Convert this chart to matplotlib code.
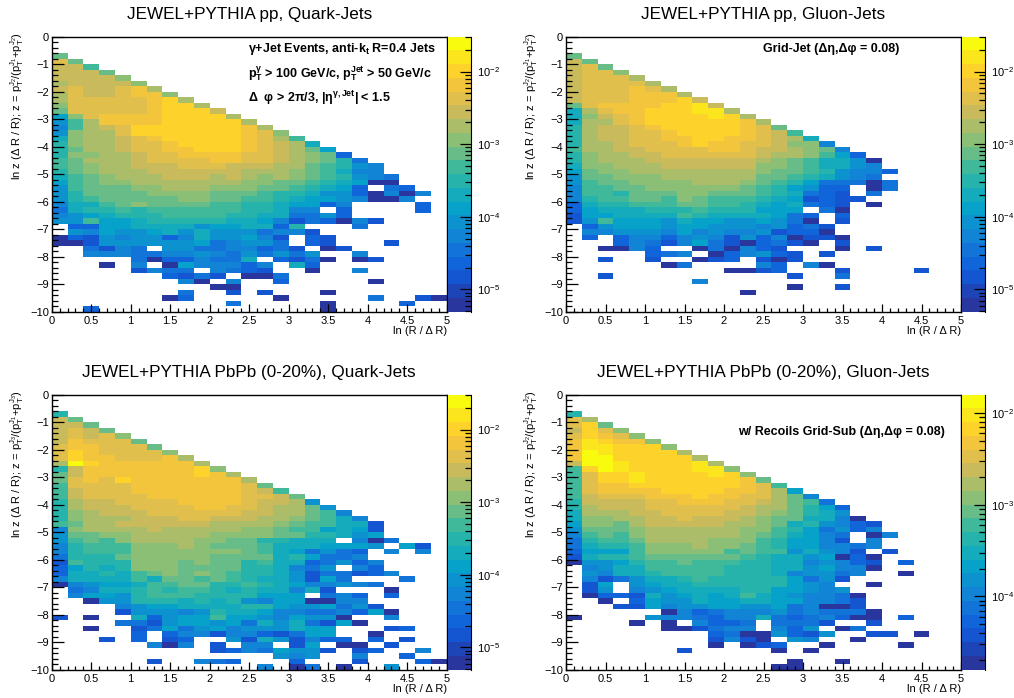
import numpy as np
import matplotlib
matplotlib.use('Agg')
import matplotlib.pyplot as plt
from matplotlib.colors import LinearSegmentedColormap, ListedColormap, BoundaryNorm
from matplotlib.ticker import LogLocator, MultipleLocator, NullFormatter, FuncFormatter

plt.rcParams['font.family'] = ['Liberation Sans', 'DejaVu Sans']
plt.rcParams['mathtext.fontset'] = 'custom'
plt.rcParams['mathtext.rm'] = 'Liberation Sans'
plt.rcParams['mathtext.it'] = 'Liberation Sans'
plt.rcParams['mathtext.bf'] = 'Liberation Sans:bold'
plt.rcParams['mathtext.default'] = 'regular'

# each row is one y bin from ln z = 0 downwards, each char one x bin (0.2 wide)
# 0-9,a-j is the colour, . is an empty bin
quark_pp = [
    "", "", "",
    "a",
    "ea",
    "dd9",
    "ddda",
    "ddddb",
    "cddddb",
    "deddefc",
    "ceddeffb",
    "ceeeeefgc",
    "beeeeefggc",
    "aeeeeefgggd",
    "6beffffggggc",
    "59cffffgggggc",
    "49cdegggggggfc",
    "5bccegggggggfeb",
    "7bccdefgggggfec9",
    "8bccdeefggggfedc7",
    "8accdeeffgggfedca6",
    "8bbccdeeffffeedcba2",
    "9acccdeeeeffeedcba83",
    "9abccdddeeedddcca9854",
    "8abcccddddddcccba9744",
    "79abcccdddcdcbcba98543",
    "69abbcccccccbbaa987600",
    "59aaabbcccbbbaa98762.32",
    "58aaaabbbbaaa98875520404",
    "589aaaaabbaa99876654004",
    "4779abaaaa998876624....2",
    "37889899999988744.2....2",
    "4567888999988773352",
    "559667888887764132041",
    ".226677775667728...3",
    ".5465567575553441",
    "021545524755641.21",
    "001555555634553.21...1",
    "..3143.553344231.01",
    "..444334454353535..4",
    ".....30224337.2130.01",
    "...0.4.0644424.72",
    ".....1433.4321..0..4",
    ".......2131.003",
    "........40.4..2.....0",
    "..........00",
    "........3..1.1...0",
    ".......02.....0.....3..10",
    "...........3.....0....2",
    "..2..............0",
]

gluon_pp = [
    "", "", "",
    "a",
    "da",
    "dea",
    "deeb",
    "deeec",
    "deeeec",
    "deeefec",
    "deeefffc",
    "deeefffgd",
    "aeffffgghd",
    "7ceffggghhc",
    "7bdefgggghgc",
    "7ccefggggggfc",
    "8cddefgggggfea",
    "8cddeefggggfed9",
    "8cddeeffggffedc7",
    "8ccdeeefgffeedbb4",
    "9ccddeeeeffeddcba4",
    "8bccddeeeeeedccb962",
    "8bcccdddddddcba97750",
    "7bbcccddddddbba97754",
    "6abbccccccccbaa985442",
    "5aabbbccccccaa987543",
    "59aabbbbcccba98633303",
    "499aabbbbbba986522.03",
    "4998aaabbaaa987321.3",
    "4899aa9ba9998761211",
    "2788999aa998767321.0",
    "267778889888666.30",
    "1667777987777632.2",
    "1596665766556530.1",
    ".2566656655545231",
    ".4455546454451220",
    ".2.244245415240110",
    "...2431463102310.1",
    "..0042..030421...0.1",
    ".....234.024521.1",
    "..1..1..012.101",
    "......03....42.40",
    "..........0012...1....1",
    "..1...........1..3",
    "........4",
    "..............0..1",
    "...........0",
    "", "", "",
]

quark_pbpb = [
    "", "", "",
    "8",
    "da",
    "dda",
    "deda",
    "dedeb",
    "dfeeea",
    "effeeea",
    "egfeeeeb",
    "egffeeefc",
    "cigffffffc",
    "8dfffffffgb",
    "adfffffffgfc",
    "aefegfffffffc",
    "9eeeefffffffea",
    "9deeefffffffed9",
    "9deeeeffffffeeda",
    "8cddeeeeffffeddc5",
    "8cdddeeeeffeedcca5",
    "8bcdddeeeeeeddcca94",
    "8bcccdddeedddccba974",
    "9accddddddccccba99771",
    "4bccccdcccccbba996761",
    "5aabbcccccbbbbaa88756",
    "59a9bccccbbaa88777.403",
    "48999bbbcbaaa97776665.61",
    "48999bbbbbbba9763532.4.4",
    "3888abbbbbaaaa786334",
    "19888bbbabaa897723524",
    "26878bbbaaaa887435.42",
    "277879ababa98875133124",
    "4777797aa9a98775163...3",
    "04566799aa88987644543",
    ".34778989987877471...0",
    ".466589998888666.342.2",
    "..055888787854660044",
    "....45667777886556351",
    "....155545877644334260",
    "1.0..72566966546550..4",
    "....3315665637573160",
    "..0..1363564555766...12",
    ".....2.24414421366..0",
    "...1.2.12..51751422.2.1",
    "......404.1.44.16.00.1",
    "..........12436551.12..4",
    "..............545..4..2",
    "......1..432...2...1...20",
    ".............4.03.0..5",
]

gluon_pbpb = [
    "", "", "",
    "8",
    "ec",
    "ega",
    "dgeb",
    "egfeb",
    "fhgffb",
    "fhhgggb",
    "fihggggc",
    "fjigggggc",
    "djjhgggghc",
    "9gjhgggghhb",
    "9egghgggghgb",
    "9egghggggggfa",
    "9effgggggggfe9",
    "9effffggggffec6",
    "9deeefffgffeeca4",
    "8ddddeefffeedca93",
    "8cdddeeeeeedcca862",
    "7cccddeeeeddcba875",
    "7bbccddedddcbaa7740",
    "6bbacdddddccba785421",
    "5aaabccccccbb9863524",
    "49a9bccccccba97643.04",
    "3899accccbbb986641.4",
    "37889bbbcbba98664434",
    "26669bbbbb9a9957541.1",
    "17889aaaaaa987756020",
    "0556899a999887745421.2",
    ".4577999998887756440",
    ".547789999888745534..0",
    ".41357789888886351",
    ".16.5677888888654..0",
    ".15.45677778866545",
    ".022175676797654430",
    "..0.265576677664431",
    "...1164556655634001",
    "......04234445343330",
    "0....544324473234200.2",
    "....0.0.4223.3331..1",
    "......001344.425.03",
    ".........23005215..11.0",
    ".........1410.54..0",
    ".........0.012..0....0",
    ".......1.....0.0",
    "",
    "..............0..0",
    ".............00",
]

panel_titles = ["JEWEL+PYTHIA pp, Quark-Jets", "JEWEL+PYTHIA pp, Gluon-Jets",
                "JEWEL+PYTHIA PbPb (0-20%), Quark-Jets", "JEWEL+PYTHIA PbPb (0-20%), Gluon-Jets"]
panel_rows = [quark_pp, gluon_pp, quark_pbpb, gluon_pbpb]
z_range = [(-5.307, -1.52), (-5.307, -1.52), (-5.307, -1.52), (-4.8, -1.8)]
label_j2 = r"ln z ($\Delta$ R / R); z = p$_{T}^{J_{2}}$/(p$_{T}^{J_{1}}$+p$_{T}^{J_{2}}$)"
label_j3 = r"ln z ($\Delta$ R / R); z = p$_{T}^{J_{3}}$/(p$_{T}^{J_{1}}$+p$_{T}^{J_{3}}$)"
ylabels = [label_j2, label_j2, label_j3, label_j2]

# pixel boxes: axes left, right, top, bottom
boxes = [(51.7, 446.7, 36.7, 311.7), (566, 961, 36.7, 311.7),
         (51.7, 446.7, 394.7, 669.7), (566, 961, 394.7, 669.7)]

# ROOT kBird palette, first stop nudged to the navy of the picture
bird = [(0.16, 0.21, 0.62), (0.0592, 0.3599, 0.8684), (0.0780, 0.5041, 0.8385),
        (0.0232, 0.6419, 0.7914), (0.1802, 0.7178, 0.6425), (0.5301, 0.7492, 0.4662),
        (0.8186, 0.7328, 0.3499), (0.9956, 0.7862, 0.1968), (0.9764, 0.9832, 0.0539)]
cm = LinearSegmentedColormap.from_list('bird', bird, N=256)
cmap = ListedColormap([cm(i / 19.) for i in range(20)])
cmap.set_bad('white')

W, H = 1014., 698.
fig = plt.figure(figsize=(W / 100, H / 100), dpi=100)


def px_axes(l, r, t, b):
    return fig.add_axes([l / W, 1 - b / H, (r - l) / W, (b - t) / H])


def decode(rows):
    # palette band for every bin, nan for empty ones
    grid = np.full((50, 25), np.nan)
    for i, row in enumerate(rows[:50]):
        for j, c in enumerate(row[:25]):
            if c != '.':
                n = int(c, 20)
                grid[i, j] = 0 if n == 0 else min(n + 1, 19)
    return grid


xedges = np.arange(26) * 0.2
yedges = -np.arange(51) * 0.2

for k in range(4):
    l, r, t, b = boxes[k]
    ax = px_axes(l, r, t, b)
    levels = np.logspace(z_range[k][0], z_range[k][1], 21)
    norm = BoundaryNorm(levels, 20)
    bands = decode(panel_rows[k])
    centers = np.sqrt(levels[:-1] * levels[1:])
    vals = np.full(bands.shape, np.nan)
    ok = ~np.isnan(bands)
    vals[ok] = centers[bands[ok].astype(int)]
    ax.pcolormesh(xedges, yedges, np.ma.masked_invalid(vals), cmap=cmap, norm=norm)
    ax.set_xlim(0, 5)
    ax.set_ylim(-10, 0)
    ax.xaxis.set_major_locator(MultipleLocator(0.5))
    ax.xaxis.set_minor_locator(MultipleLocator(0.1))
    ax.yaxis.set_major_locator(MultipleLocator(1))
    ax.yaxis.set_minor_locator(MultipleLocator(0.2))
    ax.xaxis.set_major_formatter(FuncFormatter(lambda v, p: '%g' % v))
    ax.yaxis.set_major_formatter(FuncFormatter(lambda v, p: ('\u2212%g' % -v) if v < 0 else '%g' % v))
    ax.tick_params(axis='x', which='major', direction='in', length=6, width=0.9, labelsize=8, pad=3)
    ax.tick_params(axis='x', which='minor', direction='in', length=3, width=0.9)
    ax.tick_params(axis='y', which='major', direction='in', length=8.6, width=0.9, labelsize=8, pad=2)
    ax.tick_params(axis='y', which='minor', direction='in', length=4.3, width=0.9)
    for s in ax.spines.values():
        s.set_linewidth(1.0)

    fig.text((l + r) / 2 / W, 1 - (t - 22.5) / H, panel_titles[k], fontsize=12.3, ha='center', va='center')
    fig.text(r / W, 1 - (b + 19.5) / H, "ln (R / \u0394 R)", fontsize=8, ha='right', va='center')
    fig.text((l - 34.5) / W, 1 - (t - 5) / H, ylabels[k], fontsize=8, rotation=90, ha='center', va='top')

    # palette axis
    cax = px_axes(r + 1.2, r + 24.3, t, b)
    cax.pcolormesh([0, 1], levels, np.arange(20)[:, None] + 0.5, cmap=cmap, vmin=0, vmax=20)
    cax.set_yscale('log')
    cax.set_ylim(levels[0], levels[-1])
    cax.set_xlim(0, 1)
    cax.set_xticks([])
    cax.yaxis.tick_right()
    cax.yaxis.set_major_locator(LogLocator(base=10))
    cax.yaxis.set_minor_locator(LogLocator(base=10, subs=np.arange(2, 10)))
    cax.yaxis.set_minor_formatter(NullFormatter())
    cax.yaxis.set_major_formatter(FuncFormatter(lambda v, p: '$10^{%d}$' % round(np.log10(v))))
    cax.tick_params(axis='y', which='major', direction='in', length=8, width=0.9, labelsize=8, pad=4)
    cax.tick_params(axis='y', which='minor', direction='in', length=4, width=0.9)
    for name in ['top', 'bottom', 'left']:
        cax.spines[name].set_visible(False)


def note(xp, yp, s):
    fig.text(xp / W, 1 - yp / H, s, fontsize=9, fontweight='bold', ha='left', va='center')


note(248, 49, "\u03b3+Jet Events, anti-k$_{\\mathbf{t}}$ R=0.4 Jets")
note(248, 74, r"$\mathbf{p_{T}^{\gamma}}$ > 100 GeV/c, $\mathbf{p_{T}^{Jet}}$ > 50 GeV/c")
note(248, 98, "\u0394  \u03c6 > 2\u03c0/3, |\u03b7$^{\\mathbf{\\gamma,Jet}}$| < 1.5")
note(763, 49, "Grid-Jet (\u0394\u03b7,\u0394\u03c6 = 0.08)")
note(738, 432, "w/ Recoils Grid-Sub (\u0394\u03b7,\u0394\u03c6 = 0.08)")

fig.savefig('out.png', dpi=100)
